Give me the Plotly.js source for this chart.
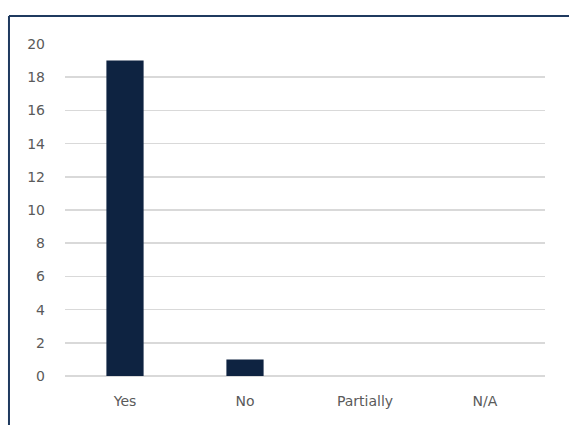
<!DOCTYPE html>
<html>
<head>
<meta charset="utf-8">
<script src="https://cdn.plot.ly/plotly-3.0.1.min.js"></script>
<style>html,body{margin:0;padding:0;background:#fff;}#chart{width:569px;height:425px;}</style>
</head>
<body>
<div id="chart"></div>
<script>
var categories = ["Yes", "No", "Partially", "N/A"];
var counts = [19, 1, 0, 0];
var yTicks = [0, 2, 4, 6, 8, 10, 12, 14, 16, 18, 20];

var trace = {
  type: "bar",
  x: categories,
  y: counts,
  marker: {color: "#0e2341"},
  hoverinfo: "x+y"
};

var layout = {
  width: 569,
  height: 425,
  margin: {l: 65, r: 24, t: 44, b: 49},
  paper_bgcolor: "#ffffff",
  plot_bgcolor: "#ffffff",
  bargap: 0.69,
  showlegend: false,
  font: {family: "DejaVu Sans, sans-serif", size: 14, color: "#5a5a5a"},
  xaxis: {
    type: "category",
    showgrid: false,
    showline: false,
    zeroline: false,
    ticks: "",
    ticklabelstandoff: 15,
    tickfont: {size: 14, color: "#5a5a5a"}
  },
  yaxis: {
    range: [0, 20],
    tickvals: yTicks,
    showgrid: true,
    gridcolor: "#d9d9d9",
    gridwidth: 1.5,
    zeroline: true,
    zerolinecolor: "#d9d9d9",
    zerolinewidth: 1.5,
    showline: false,
    ticks: "",
    ticklabelstandoff: 19,
    tickfont: {size: 14, color: "#5a5a5a"}
  },
  shapes: [
    {type: "line", xref: "paper", yref: "paper", x0: -0.1167, x1: 1.05, y0: 1.0843, y1: 1.0843,
     line: {color: "#1f3a5f", width: 2}},
    {type: "line", xref: "paper", yref: "paper", x0: -0.1167, x1: -0.1167, y0: 1.0843, y1: -0.15,
     line: {color: "#1f3a5f", width: 2}}
  ]
};

Plotly.newPlot("chart", [trace], layout, {displayModeBar: false, staticPlot: true});
</script>
</body>
</html>
